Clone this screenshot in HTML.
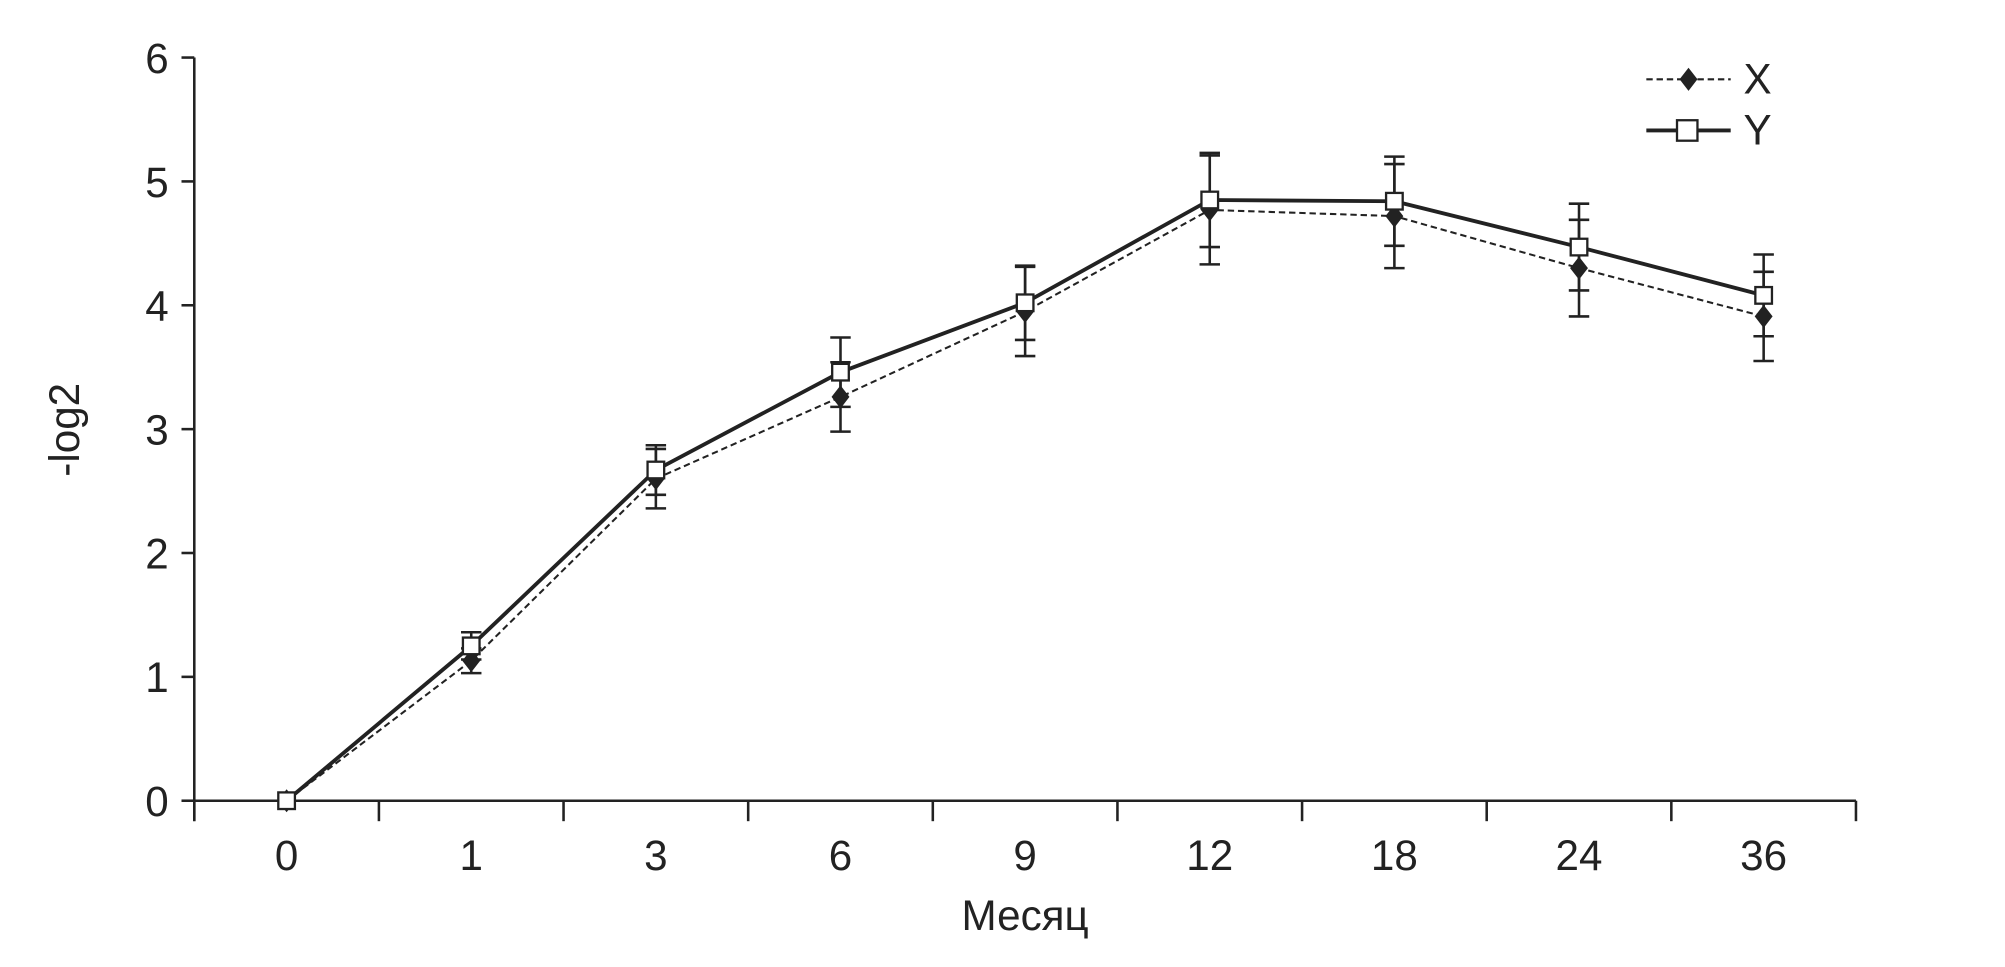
<!DOCTYPE html>
<html><head><meta charset="utf-8"><style>
html,body{margin:0;padding:0;background:#fff}
svg{display:block}
text{font-family:"Liberation Sans",Arial,sans-serif;fill:#222}
</style></head><body>
<svg id="chart" width="2005" height="967" viewBox="0 0 1568.6 756" preserveAspectRatio="none" xmlns="http://www.w3.org/2000/svg"></svg>
<script>
const categories=["0","1","3","6","9","12","18","24","36"];
const seriesX=[0,1.13,2.6,3.26,3.95,4.77,4.72,4.3,3.91];
const errX=[0,0.1,0.24,0.28,0.36,0.44,0.42,0.39,0.36];
const seriesY=[0,1.25,2.67,3.46,4.02,4.85,4.84,4.47,4.08];
const errY=[0,0.11,0.2,0.28,0.3,0.38,0.36,0.35,0.33];
const yTicks=[0,1,2,3,4,5,6];
const NS="http://www.w3.org/2000/svg";
const svg=document.getElementById('chart');
const L=152,R=1452,T=45,B=626;
const band=(R-L)/categories.length;
const xs=i=>L+band*(i+0.5);
const ys=v=>B-(v/6)*(B-T);
function mk(t,a,p){const e=document.createElementNS(NS,t);for(const k in a)e.setAttribute(k,a[k]);(p||svg).appendChild(e);return e;}
let e;
e=mk('line',{x1:L,y1:T,x2:L,y2:B+16,stroke:'#222','stroke-width':2});


e=mk('line',{x1:L,y1:B,x2:R,y2:B,stroke:'#222','stroke-width':2});


yTicks.forEach(v=>{
 e=mk('line',{x1:L-10,y1:ys(v),x2:L,y2:ys(v),stroke:'#222','stroke-width':2});
 
 
 e=mk('text',{x:L-20,y:ys(v)+12,'font-size':33,'text-anchor':'end'});e.textContent=v;
 
 
});
for(let i=0;i<=categories.length;i++){
 e=mk('line',{x1:L+band*i,y1:B,x2:L+band*i,y2:B+16,stroke:'#222','stroke-width':2});
 
 
}
categories.forEach((c,i)=>{
 e=mk('text',{x:xs(i),y:680,'font-size':33,'text-anchor':'middle'});e.textContent=c;
 
 
});
e=mk('text',{x:802,y:727,'font-size':33,'text-anchor':'middle'});e.textContent='Месяц';


e=mk('text',{x:62,y:336,'font-size':33,'text-anchor':'middle',transform:'rotate(-90 62 336)'});e.textContent='-log2';


function errbars(vals,errs,name){
 vals.forEach((v,i)=>{ if(!errs[i])return;
  const x=xs(i),a=ys(v+errs[i]),b=ys(v-errs[i]);
  const g=mk('g',{stroke:'#222','stroke-width':2});
  
  
  mk('line',{x1:x,y1:a,x2:x,y2:b},g);
  mk('line',{x1:x-8,y1:a,x2:x+8,y2:a},g);
  mk('line',{x1:x-8,y1:b,x2:x+8,y2:b},g);
 });
}
errbars(seriesX,errX,'error-bar-x');
errbars(seriesY,errY,'error-bar-y');
e=mk('polyline',{points:seriesX.map((v,i)=>xs(i)+','+ys(v)).join(' '),fill:'none',stroke:'#222','stroke-width':1.6,'stroke-dasharray':'5,3'});


e=mk('polyline',{points:seriesY.map((v,i)=>xs(i)+','+ys(v)).join(' '),fill:'none',stroke:'#222','stroke-width':3});


function diamond(x,y){return `${x},${y-9} ${x+7},${y} ${x},${y+9} ${x-7},${y}`;}
seriesX.forEach((v,i)=>{
 e=mk('polygon',{points:diamond(xs(i),ys(v)),fill:'#222'});
 
 
});
seriesY.forEach((v,i)=>{
 e=mk('rect',{x:xs(i)-6.5,y:ys(v)-6.5,width:13,height:13,fill:'#fff',stroke:'#222','stroke-width':1.8});
 
 
});
const lg=mk('g',{});


mk('line',{x1:1288,y1:62,x2:1354,y2:62,stroke:'#222','stroke-width':1.6,'stroke-dasharray':'5,3'},lg);
mk('polygon',{points:diamond(1321,62),fill:'#222'},lg);
e=mk('text',{x:1364,y:73,'font-size':33},lg);e.textContent='X';
mk('line',{x1:1288,y1:102,x2:1354,y2:102,stroke:'#222','stroke-width':3},lg);
mk('rect',{x:1312,y:94,width:16,height:16,fill:'#fff',stroke:'#222','stroke-width':1.8},lg);
e=mk('text',{x:1364,y:113,'font-size':33},lg);e.textContent='Y';
</script>
</body></html>
